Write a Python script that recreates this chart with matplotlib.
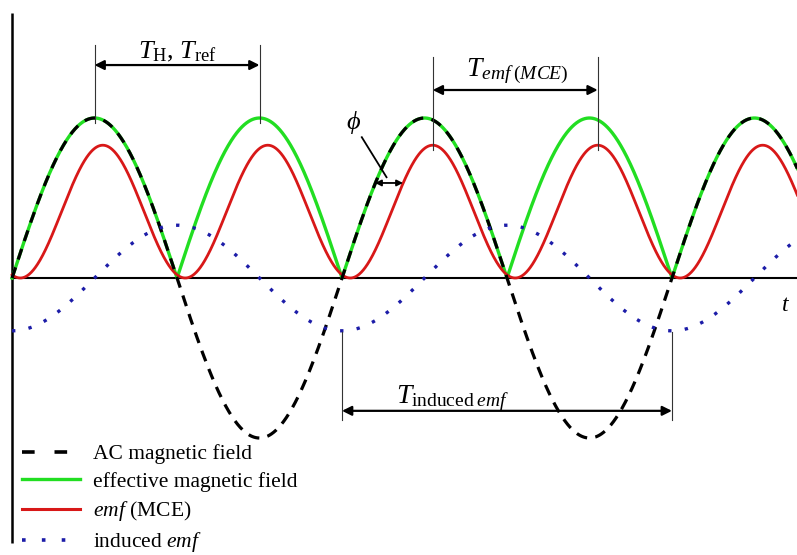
import numpy as np
import matplotlib
matplotlib.use("Agg")
from matplotlib import pyplot as plt
from matplotlib.lines import Line2D

plt.rcParams['font.family'] = ['Liberation Serif', 'DejaVu Serif']
plt.rcParams['mathtext.fontset'] = 'custom'
plt.rcParams['mathtext.rm'] = 'Liberation Serif'
plt.rcParams['mathtext.it'] = 'Liberation Serif:italic'

# waveform parameters (time in units of T_H, field amplitude = 1)
half_period = 1.0          # T_H = T_ref
ac_amplitude = 1.0
mce_amplitude = 0.83
mce_shift = 0.05           # phase lag phi, in units of T_H
induced_amplitude = 0.33
induced_period = 2.0       # T_induced emf
t_end = 4.76

labels = ["AC magnetic field", "effective magnetic field", "$emf$ (MCE)", "induced $emf$"]

t = np.linspace(0, t_end, 2000)
ac = ac_amplitude * np.sin(np.pi * t / half_period)
effective = np.abs(ac)
mce = mce_amplitude * np.sin(np.pi * (t - mce_shift) / half_period) ** 2
induced = -induced_amplitude * np.cos(2 * np.pi * t / induced_period)

fig = plt.figure(figsize=(7.97, 5.55), dpi=100)
ax = fig.add_axes([0, 0, 1, 1])
ax.set_xlim(-0.073, 4.758)
ax.set_ylim(-1.731, 1.7375)
ax.axis('off')

# axes
ax.plot([0, 0], [-1.656, 1.656], color='black', lw=1.8, solid_capstyle='butt')
ax.plot([0, t_end], [0, 0], color='black', lw=1.5)
ax.text(4.69, -0.17, "$t$", fontsize=17, ha='center', va='center')

green = '#22de22'
red = '#d81818'
blue = '#1c1ca8'
ax.plot(t, effective, color=green, lw=2.4)
ax.plot(t, mce, color=red, lw=2.0)
ax.plot(t, ac, color='black', lw=2.3, linestyle=(0, (3.5, 2.6)))
ax.plot(t, induced, color=blue, lw=2.4, linestyle=(0, (1, 4)))


def span(x1, x2, y_arrow, y_top, y_bottom):
    for x in (x1, x2):
        ax.plot([x, x], [y_bottom, y_top], color='#333333', lw=0.8)
    ax.annotate("", xy=(x1, y_arrow), xytext=(x2, y_arrow),
                arrowprops=dict(arrowstyle='<|-|>', lw=1.6, color='black',
                                mutation_scale=14, shrinkA=0, shrinkB=0))


# T_H, T_ref
span(0.5 * half_period, 1.5 * half_period, 1.331, 1.456, 0.97)
ax.text(1.0, 1.37, r"$T_{\mathrm{H}}$, $T_{\mathrm{ref}}$", fontsize=19, ha='center', va='baseline')

# T_emf(MCE)
span(2.5 * half_period + mce_shift, 3.5 * half_period + mce_shift, 1.175, 1.381, 0.80)
ax.text(3.06, 1.26, r"$T_{emf\;(MCE)}$", fontsize=20, ha='center', va='baseline')

# T_induced emf
span(induced_period, 2 * induced_period, -0.83, -0.3375, -0.8875)
ax.text(2.67, -0.78, r"$T_{\mathrm{induced}\;emf}$", fontsize=20, ha='center', va='baseline')

# phase phi
ax.text(2.07, 0.97, r"$\phi$", fontsize=19, ha='center', va='center')
ax.plot([2.12, 2.27], [0.88, 0.63], color='black', lw=1.3)
ax.annotate("", xy=(2.20, 0.594), xytext=(2.37, 0.594),
            arrowprops=dict(arrowstyle='<|-|>', lw=1.3, color='black',
                            mutation_scale=9, shrinkA=0, shrinkB=0))

handles = [
    Line2D([], [], color='black', lw=2.6, linestyle=(0, (3.5, 5.5))),
    Line2D([], [], color=green, lw=2.4),
    Line2D([], [], color=red, lw=2.2),
    Line2D([], [], color=blue, lw=2.6, linestyle=(0, (1, 4.5))),
]
ax.legend(handles, labels, loc='lower left',
          bbox_to_anchor=(0.009, -0.026), frameon=False, fontsize=15.5,
          handlelength=2.7, handletextpad=0.6, labelspacing=0.34, borderpad=0.2)

fig.savefig("out.png", dpi=100)
